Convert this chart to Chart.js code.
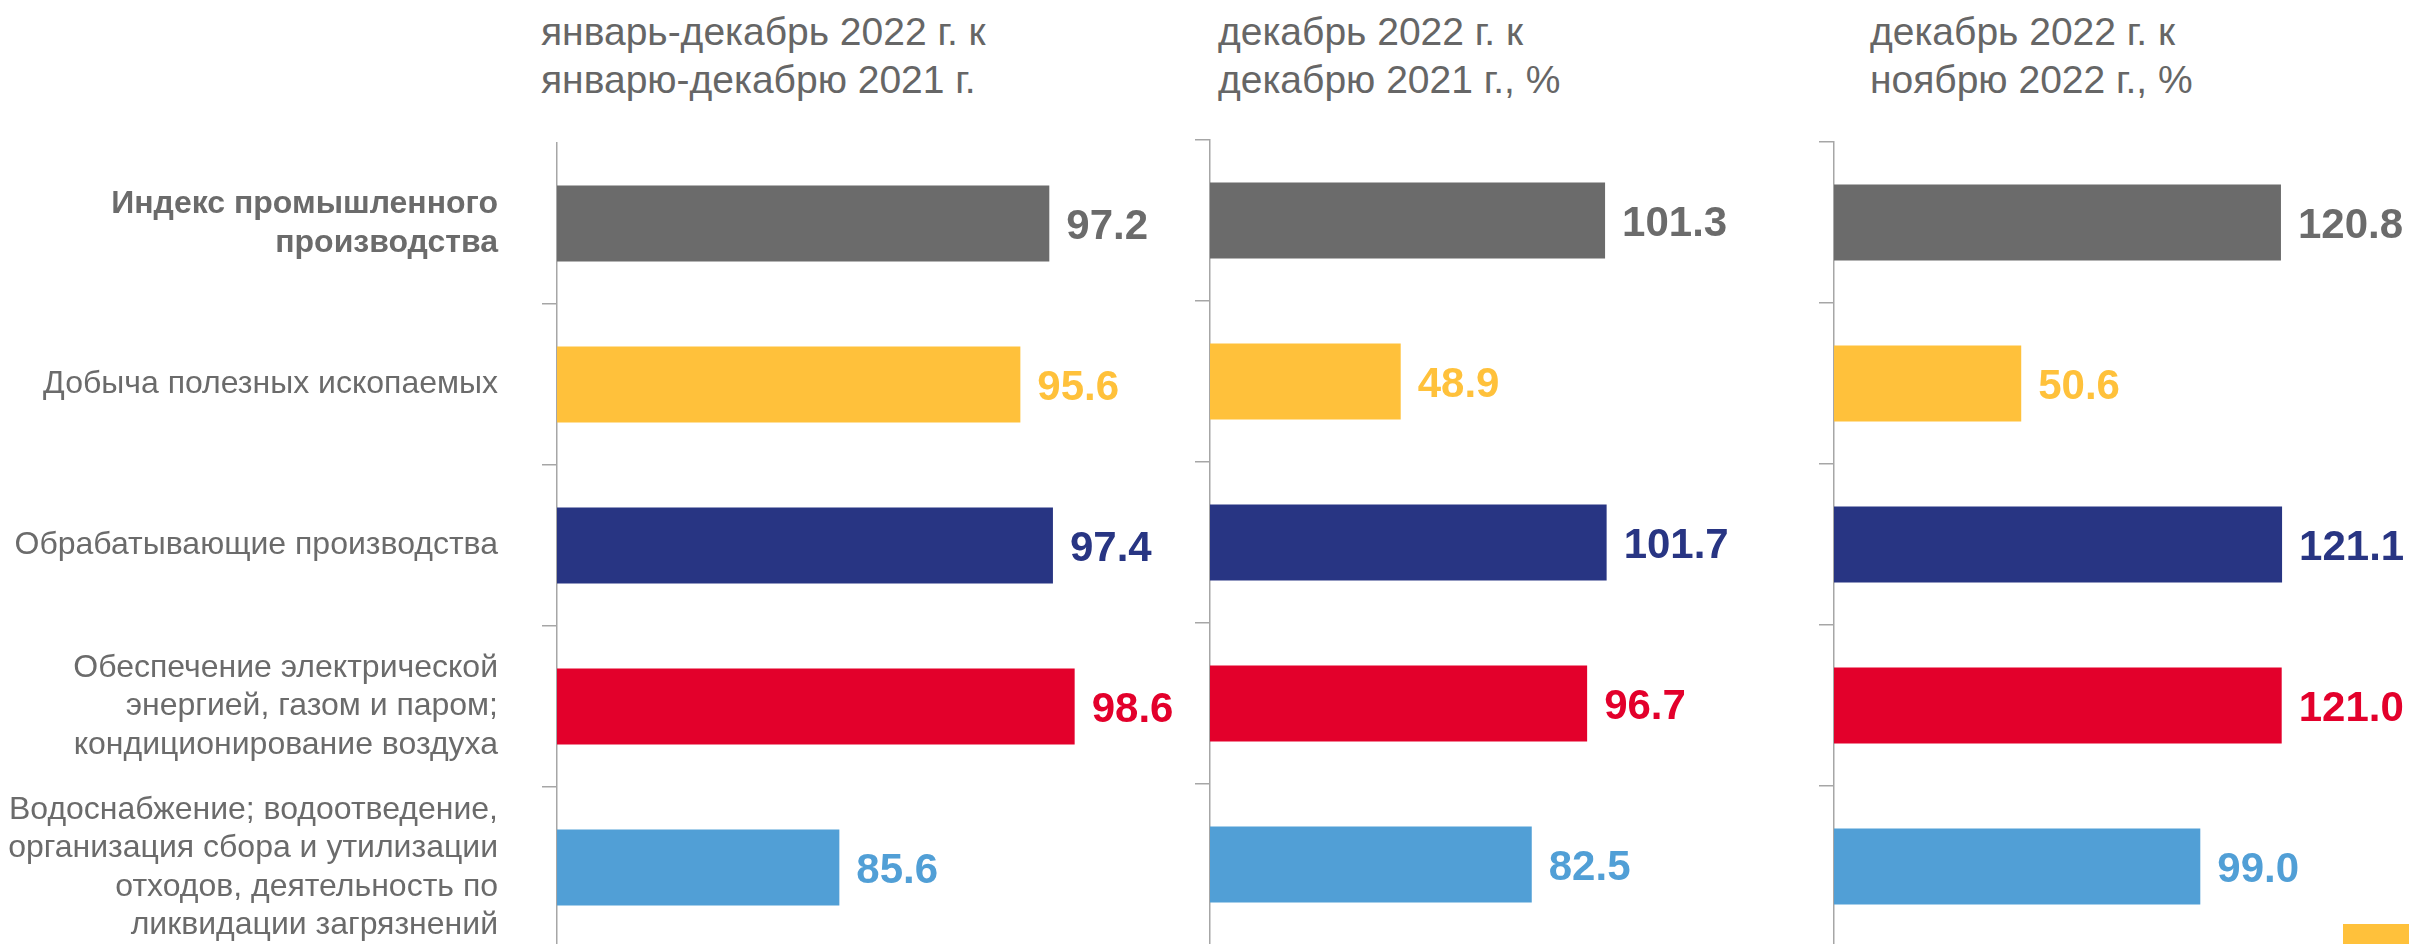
<!DOCTYPE html>
<html lang="ru">
<head>
<meta charset="utf-8">
<script src="https://cdn.jsdelivr.net/npm/chart.js@4.4.1/dist/chart.umd.min.js"></script>
<style>
  html, body { margin: 0; padding: 0; background: #fff; }
  body { width: 2409px; height: 944px; overflow: hidden; position: relative; font-family: "Liberation Sans", Arial, sans-serif; }
  .panel { position: absolute; top: 0; }
  .title { position: absolute; top: 8px; color: #666; font-size: 39px; line-height: 48px; white-space: nowrap; }
  .corner { position: absolute; left: 2343px; top: 924px; width: 66px; height: 20px; background: #FFC13B; }
</style>
</head>
<body>
<div class="title" style="left:541px">январь-декабрь 2022 г. к<br>январю-декабрю 2021 г.</div>
<div class="title" style="left:1218px">декабрь 2022 г. к<br>декабрю 2021 г., %</div>
<div class="title" style="left:1870px">декабрь 2022 г. к<br>ноябрю 2022 г., %</div>

<div class="panel" style="left:0; width:1200px; height:948px"><canvas id="p1"></canvas></div>
<div class="panel" style="left:1150px; width:620px; height:945px"><canvas id="p2"></canvas></div>
<div class="panel" style="left:1774px; width:635px; height:947px"><canvas id="p3"></canvas></div>
<div class="corner"></div>

<script>
// данные
const categories = [
  ['Индекс промышленного', 'производства'],
  'Добыча полезных ископаемых',
  'Обрабатывающие производства',
  ['Обеспечение электрической', 'энергией, газом и паром;', 'кондиционирование воздуха'],
  ['Водоснабжение; водоотведение,', 'организация сбора и утилизации', 'отходов, деятельность по', 'ликвидации загрязнений']
];
const yearVsYear = [97.2, 95.6, 97.4, 98.6, 85.6];
const decVsDec = [101.3, 48.9, 101.7, 96.7, 82.5];
const decVsNov = [120.8, 50.6, 121.1, 121.0, 99.0];
const barColors = ['#6B6B6B', '#FFC13B', '#283583', '#E3002B', '#519FD6'];

const FONT = '"Liberation Sans", Arial, sans-serif';
const AXIS_GRAY = '#A6A6A6';

// подписи значений справа от столбцов
const valueLabels = {
  id: 'valueLabels',
  afterDatasetsDraw(chart) {
    const ctx = chart.ctx;
    const meta = chart.getDatasetMeta(0);
    const values = chart.data.datasets[0].data;
    ctx.save();
    ctx.font = 'bold 42px ' + FONT;
    ctx.textAlign = 'left';
    ctx.textBaseline = 'alphabetic';
    meta.data.forEach((bar, i) => {
      ctx.fillStyle = barColors[i];
      ctx.fillText(values[i].toFixed(1), bar.x + 17, bar.y + 15);
    });
    ctx.restore();
  }
};

function makePanel(id, values, opt) {
  return new Chart(document.getElementById(id), {
    type: 'bar',
    data: {
      labels: categories,
      datasets: [{
        data: values,
        backgroundColor: barColors,
        borderWidth: 0,
        barPercentage: 0.472,
        categoryPercentage: 1
      }]
    },
    options: {
      indexAxis: 'y',
      responsive: true,
      maintainAspectRatio: false,
      animation: false,
      layout: { padding: { top: opt.top, right: opt.right, bottom: 0, left: 0 } },
      scales: {
        x: { display: false, min: opt.min, max: opt.max },
        y: {
          afterFit: (scale) => {
            scale.width = opt.axisWidth;
            scale.paddingTop = 0;
            scale.paddingBottom = 0;
          },
          border: { display: true, color: AXIS_GRAY, width: 1.5 },
          grid: {
            drawOnChartArea: false,
            drawTicks: true,
            tickLength: 15,
            lineWidth: 1.5,
            color: (c) => (opt.hideTopTick && c.index === 0 ? 'rgba(0,0,0,0)' : AXIS_GRAY)
          },
          ticks: {
            display: opt.showLabels,
            padding: 44,
            color: '#6B6B6B',
            font: (c) => ({ family: FONT, size: 32, lineHeight: 1.2, weight: c.index === 0 ? 'bold' : 'normal' })
          }
        }
      },
      plugins: { legend: { display: false }, tooltip: { enabled: false }, title: { display: false } }
    },
    plugins: [valueLabels]
  });
}

makePanel('p1', yearVsYear, { top: 143, right: 100, min: 70, max: 100, axisWidth: 557, showLabels: true, hideTopTick: true });
makePanel('p2', decVsDec, { top: 140, right: 92, min: 0, max: 120, axisWidth: 60, showLabels: false });
makePanel('p3', decVsNov, { top: 142, right: 57, min: 0, max: 140, axisWidth: 60, showLabels: false });
</script>
</body>
</html>
